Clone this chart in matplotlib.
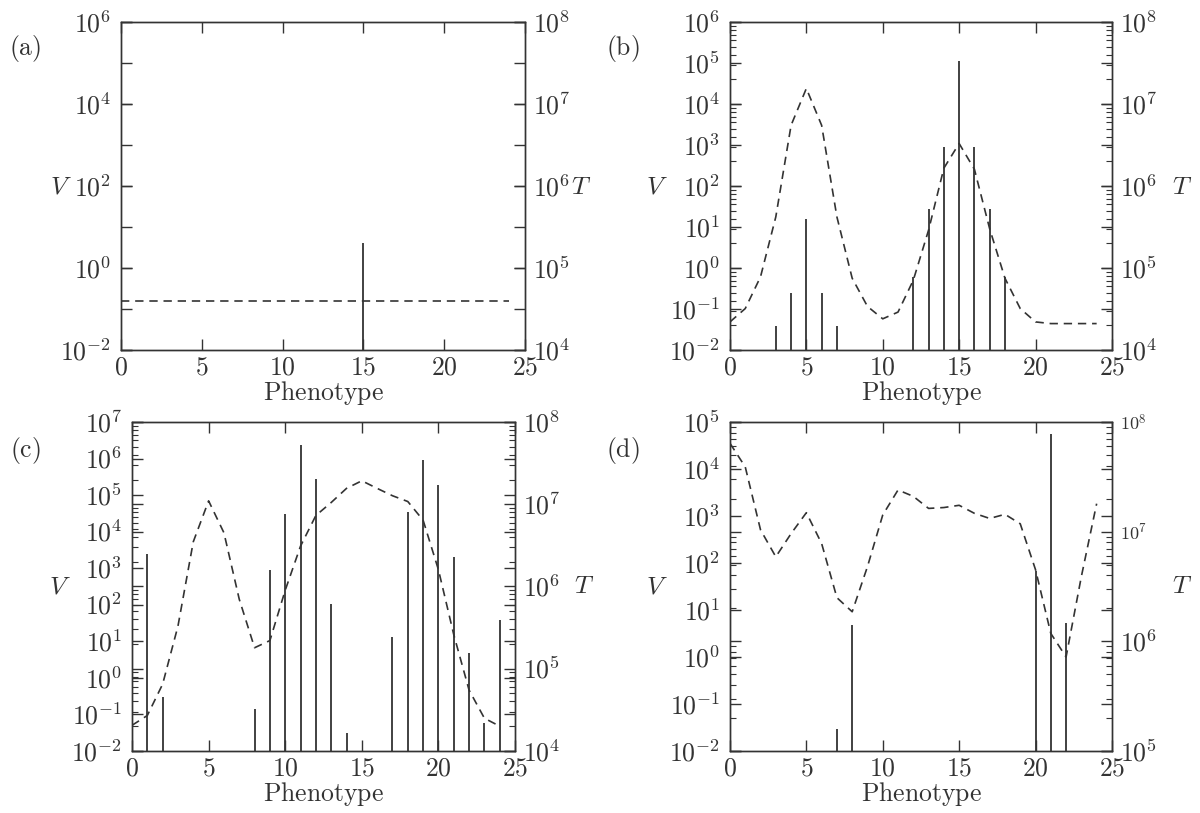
import matplotlib
matplotlib.use("Agg")
import matplotlib.pyplot as plt
from matplotlib.ticker import FixedLocator, FixedFormatter, LogLocator, NullLocator

# fonte tipo LaTeX (Computer Modern)
plt.rcParams["mathtext.fontset"] = "cm"

COR = "#333333"
TAM = 18.5

# eixo x comum
fenotipo = list(range(25))
x_marcas = [0, 5, 10, 15, 20, 25]
x_rotulos = ["0", "5", "10", "15", "20", "25"]

# painel (a)
v_a = [0, 0, 0, 0, 0, 0, 0, 0, 0, 0, 0, 0, 0, 0, 0, 4.0, 0, 0, 0, 0, 0, 0, 0, 0, 0]
t_a = [4.0e4, 4.0e4, 4.0e4, 4.0e4, 4.0e4, 4.0e4, 4.0e4, 4.0e4, 4.0e4, 4.0e4, 4.0e4, 4.0e4, 4.0e4,
       4.0e4, 4.0e4, 4.0e4, 4.0e4, 4.0e4, 4.0e4, 4.0e4, 4.0e4, 4.0e4, 4.0e4, 4.0e4, 4.0e4]
v_exp_a = [-2, -1, 0, 1, 2, 3, 4, 5, 6]
v_rot_a = [-2, 0, 2, 4, 6]
t_exp_a = [4, 5, 6, 7, 8]

# painel (b)
v_b = [0, 0, 0, 0.038, 0.25, 16, 0.25, 0.038, 0, 0, 0, 0, 0.6, 27, 900, 1.15e5, 900, 27, 0.6,
       0, 0, 0, 0, 0, 0]
t_b = [2.2e4, 3.2e4, 7.8e4, 4.2e5, 5.5e6, 1.55e7, 5.5e6, 4.2e5, 7.5e4, 3.4e4, 2.4e4, 2.9e4, 7.1e4,
       2.9e5, 1.65e6, 3.3e6, 1.6e6, 3.0e5, 7.5e4, 3.2e4, 2.2e4, 2.1e4, 2.1e4, 2.1e4, 2.1e4]
v_exp_b = [-2, -1, 0, 1, 2, 3, 4, 5, 6]
t_exp_b = [4, 5, 6, 7, 8]

# painel (c)
v_c = [0, 2400, 0.30, 0, 0, 0, 0, 0, 0.14, 880, 3.1e4, 2.4e6, 2.7e5, 108, 0.031, 0, 0, 13, 3.4e4,
       9.4e5, 1.85e5, 2000, 4.7, 0.06, 38]
t_c = [2.05e4, 2.7e4, 6.5e4, 3.3e5, 3.5e6, 1.1e7, 4.5e6, 7.0e5, 1.8e5, 2.2e5, 9.0e5, 3.1e6, 7.3e6,
       1.05e7, 1.56e7, 1.93e7, 1.56e7, 1.27e7, 1.08e7, 6.4e6, 1.6e6, 2.6e5, 5.5e4, 2.5e4, 2.0e4]
v_exp_c = [-2, -1, 0, 1, 2, 3, 4, 5, 6, 7]
t_exp_c = [4, 5, 6, 7, 8]

# painel (d)
v_d = [0, 0, 0, 0, 0, 0, 0, 0.03, 4.8, 0, 0, 0, 0, 0, 0, 0, 0, 0, 0, 0, 66, 5.7e4, 5.4, 0, 0]
t_d = [6.4e7, 3.9e7, 1.04e7, 5.9e6, 9.6e6, 1.49e7, 7.8e6, 2.5e6, 1.86e6, 4.8e6, 1.42e7, 2.4e7,
       2.1e7, 1.63e7, 1.66e7, 1.74e7, 1.47e7, 1.32e7, 1.44e7, 1.18e7, 4.5e6, 1.18e6, 7.2e5,
       3.9e6, 1.8e7]
v_exp_d = [-2, -1, 0, 1, 2, 3, 4, 5]
t_exp_d = [5, 6, 7, 8]


def pot(e):
    return r"$10^{%d}$" % e


def desenhar_painel(fig, pos, v, t, v_exp, v_rot, t_exp, menores):
    ax = fig.add_axes(pos)
    ax.set_xlim(0, 25)
    ax.set_yscale("log")
    v_min, v_max = 10.0 ** v_exp[0], 10.0 ** v_exp[-1]
    ax.set_ylim(v_min, v_max)

    # picos de V (so valores > 0)
    xs = [f for f, val in zip(fenotipo, v) if val > 0]
    vs = [val for val in v if val > 0]
    ax.vlines(xs, v_min, vs, color=COR, lw=1.3)

    # T no eixo da direita
    ax2 = ax.twinx()
    ax2.set_yscale("log")
    ax2.set_ylim(10.0 ** t_exp[0], 10.0 ** t_exp[-1])
    ax2.plot(fenotipo, t, color=COR, lw=1.2, ls=(0, (5, 3.5)))

    # eixo x
    ax.xaxis.set_major_locator(FixedLocator(x_marcas))
    ax.xaxis.set_major_formatter(FixedFormatter(["$%s$" % r for r in x_rotulos]))
    ax.tick_params(axis="x", direction="in", top=True, bottom=True, length=8, width=1,
                   color=COR, labelsize=TAM, labelcolor=COR, pad=3)
    ax.set_xlabel(r"$\mathrm{Phenotype}$", fontsize=TAM, color=COR, labelpad=-1)

    # eixo V
    ax.yaxis.set_major_locator(FixedLocator([10.0 ** e for e in v_exp]))
    ax.yaxis.set_major_formatter(FixedFormatter([pot(e) if e in v_rot else "" for e in v_exp]))
    ax.yaxis.set_minor_locator(NullLocator())
    ax.tick_params(axis="y", which="major", direction="in", left=True, right=True,
                   labelright=False, length=8, width=1, color=COR, labelsize=TAM,
                   labelcolor=COR, pad=7)

    # eixo T
    ax2.yaxis.set_major_locator(FixedLocator([10.0 ** e for e in t_exp]))
    ax2.yaxis.set_major_formatter(FixedFormatter([pot(e) for e in t_exp]))
    if menores:
        ax2.yaxis.set_minor_locator(LogLocator(base=10, subs=range(2, 10), numticks=50))
    else:
        ax2.yaxis.set_minor_locator(NullLocator())
    ax2.tick_params(axis="y", which="major", direction="in", left=True, right=True,
                    labelleft=False, labelright=True, length=8, width=1, color=COR,
                    labelsize=TAM, labelcolor=COR, pad=6)
    ax2.tick_params(axis="y", which="minor", direction="in", left=True, right=True,
                    labelleft=False, length=4, width=0.8, color=COR)

    for a in (ax, ax2):
        for s in a.spines.values():
            s.set_color(COR)
            s.set_linewidth(1.0)
    return ax, ax2


fig = plt.figure(figsize=(12, 8.13), dpi=100)

ax_a, ax2_a = desenhar_painel(fig, [0.1008, 0.5695, 0.3367, 0.4034],
                              v_a, t_a, v_exp_a, v_rot_a, t_exp_a, False)
ax_b, ax2_b = desenhar_painel(fig, [0.6083, 0.5695, 0.3183, 0.4034],
                              v_b, t_b, v_exp_b, v_exp_b, t_exp_b, True)
ax_c, ax2_c = desenhar_painel(fig, [0.11, 0.0763, 0.3192, 0.4046],
                              v_c, t_c, v_exp_c, v_exp_c, t_exp_c, True)
ax_d, ax2_d = desenhar_painel(fig, [0.6083, 0.0763, 0.3183, 0.4046],
                              v_d, t_d, v_exp_d, v_exp_d, t_exp_d, True)

# no painel (d) os rotulos 10^7 e 10^8 sao menores
marcas_d = ax2_d.yaxis.get_major_ticks()
marcas_d[2].label2.set_fontsize(13)
marcas_d[3].label2.set_fontsize(13)

# letras dos paineis e nomes dos eixos (posicoes em pixels)
W, H = 1200.0, 813.0
textos = [
    (25, 49, r"$\mathrm{(a)}$"), (623, 49, r"$\mathrm{(b)}$"),
    (25, 450, r"$\mathrm{(c)}$"), (623, 450, r"$\mathrm{(d)}$"),
    (61, 187, "$V$"), (581, 187, "$T$"),
    (657, 187, "$V$"), (1182, 187, "$T$"),
    (60, 586, "$V$"), (584, 586, "$T$"),
    (657, 586, "$V$"), (1182, 586, "$T$"),
]
for px, py, s in textos:
    fig.text(px / W, 1 - py / H, s, fontsize=TAM, color=COR, ha="center", va="center")

fig.savefig("out.png", dpi=100, facecolor="white")
